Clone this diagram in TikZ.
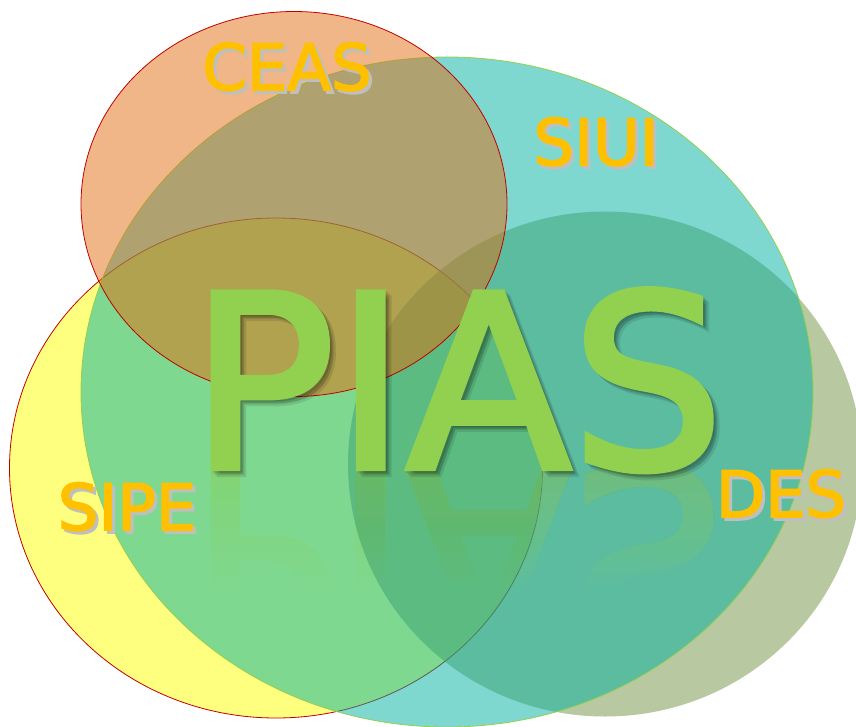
\documentclass[tikz,border=0pt]{standalone}
\usepackage{fontspec}
\usepackage{tikz}
\usetikzlibrary{shapes.geometric}
\newfontfamily\piasfont[FakeBold=2.5]{DejaVu Sans}
\definecolor{amarillo}{RGB}{255, 255, 0}
\definecolor{oliva}{RGB}{113, 145, 65}
\definecolor{turquesa}{RGB}{0, 177, 161}
\definecolor{naranja}{RGB}{225, 109, 17}
\definecolor{rojo}{RGB}{192, 0, 0}
\definecolor{lima}{RGB}{146, 208, 80}
\definecolor{oro}{RGB}{255, 192, 0}
\definecolor{sombra}{RGB}{191, 191, 191}
\tikzset{
    conj/.style={ellipse, inner sep=0pt, fill opacity=0.5, line width=0.8pt},
    etiq/.style={font=\piasfont\fontsize{64}{64}\selectfont, text=oro, anchor=base, inner sep=0pt},
    etiqSombra/.style={etiq, text=sombra},
    titulo/.style={font=\piasfont\fontsize{241}{241}\selectfont, text=lima, anchor=base, inner sep=0pt},
}
\begin{document}
\begin{tikzpicture}[x=1pt, y=-1pt]
    \useasboundingbox (0,0) rectangle (856,727);

    % los cuatro conjuntos
    \node[conj, fill=amarillo, draw=rojo, minimum width=533pt, minimum height=500pt] (sipe) at (276,468) {};
    \node[conj, fill=oliva, draw=none, minimum width=514pt, minimum height=505pt] (des) at (605,464) {};
    \node[conj, fill=turquesa, draw=lima, minimum width=732pt, minimum height=670pt] (siui) at (447,392) {};
    \node[conj, fill=naranja, draw=rojo, minimum width=426pt, minimum height=385pt] (ceas) at (294,204) {};

    % nombres con sombra gris
    \node[etiqSombra] at (290,93) {CEAS};
    \node[etiq] (nCeas) at (287,90) {CEAS};
    \node[etiqSombra] at (599,168) {SIUI};
    \node[etiq] (nSiui) at (596,165) {SIUI};
    \node[etiqSombra] at (130,533) {SIPE};
    \node[etiq] (nSipe) at (127,530) {SIPE};
    \node[etiqSombra] at (784,520) {DES};
    \node[etiq] (nDes) at (781,517) {DES};

    % reflejo: capas recortadas cada vez mas cortas
    \foreach \k in {0,...,19} {
        \begin{scope}[transparency group, opacity=0.025]
            \clip (150,468) rectangle (760,588-6*\k);
            \node[titulo, yscale=-1] at (457,468) {PIAS};
        \end{scope}
    }

    % sombra difusa y titulo
    \foreach \d in {2,4,6}
        \node[titulo, text=black, text opacity=0.1] at (457+\d,468+\d) {PIAS};
    \node[titulo] (pias) at (457,468) {PIAS};
\end{tikzpicture}
\end{document}
